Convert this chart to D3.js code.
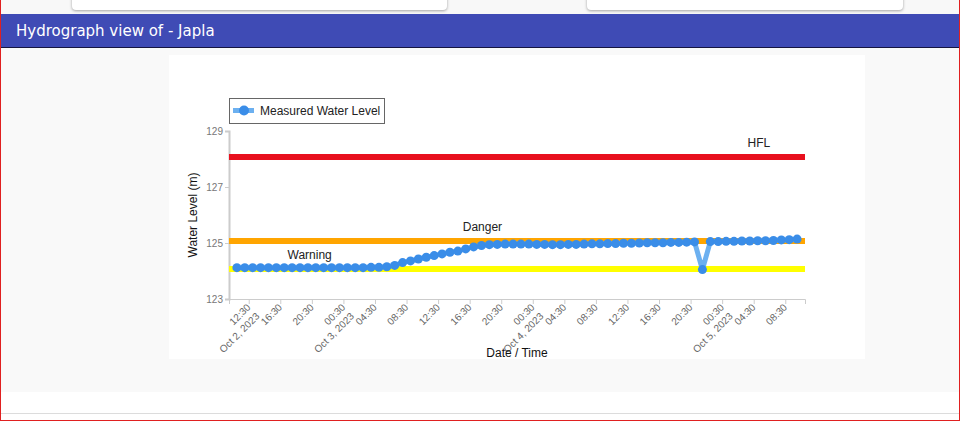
<!DOCTYPE html>
<html>
<head>
<meta charset="utf-8">
<script src="https://cdn.jsdelivr.net/npm/d3@7"></script>
<style>
  html, body { margin: 0; padding: 0; }
  body { width: 960px; height: 421px; position: relative; overflow: hidden; background: #fff; font-family: "Liberation Sans", Arial, sans-serif; }
  .frame { position: absolute; left: 0; top: 0; width: 958px; height: 420px; border: 1px solid #e02020; border-top: none; }
  .topbar { position: absolute; left: 1px; top: 0; width: 958px; height: 14px; background: #f8f8f8; }
  .card { position: absolute; top: -6px; height: 16px; background: #fff; border-radius: 0 0 4px 4px; box-shadow: 0 1px 3px rgba(0,0,0,0.35); }
  .header { position: absolute; left: 1px; top: 14px; width: 958px; height: 34px; background: #3f4bb5; border-bottom: 1px solid #151540; color: #fff; font-size: 15px; line-height: 35px; padding-left: 15px; box-sizing: border-box; font-family: "DejaVu Sans", "Liberation Sans", sans-serif; }
  .panel { position: absolute; left: 1px; top: 48px; width: 958px; height: 344px; background: #f9f9f9; }
  .bottomline { position: absolute; left: 1px; top: 413px; width: 958px; height: 1px; background: #dcdcdc; }
  #chart { position: absolute; left: 169px; top: 55px; width: 696px; height: 304px; background: #fff; }
  svg text { font-family: "Liberation Sans", Arial, sans-serif; }
</style>
</head>
<body>
<div class="topbar"></div>
<div class="card" style="left:72px;width:375px"></div>
<div class="card" style="left:587px;width:316px"></div>
<div class="header">Hydrograph view of - Japla</div>
<div class="panel"></div>
<div id="chart"></div>
<div class="bottomline"></div>
<div class="frame"></div>
<script>
// hourly readings, Oct 2 11:00 -> Oct 5 10:00
var times = [
  "2023-10-02 11:00","2023-10-02 12:00","2023-10-02 13:00","2023-10-02 14:00","2023-10-02 15:00","2023-10-02 16:00",
  "2023-10-02 17:00","2023-10-02 18:00","2023-10-02 19:00","2023-10-02 20:00","2023-10-02 21:00","2023-10-02 22:00",
  "2023-10-02 23:00","2023-10-03 00:00","2023-10-03 01:00","2023-10-03 02:00","2023-10-03 03:00","2023-10-03 04:00",
  "2023-10-03 05:00","2023-10-03 06:00","2023-10-03 07:00","2023-10-03 08:00","2023-10-03 09:00","2023-10-03 10:00",
  "2023-10-03 11:00","2023-10-03 12:00","2023-10-03 13:00","2023-10-03 14:00","2023-10-03 15:00","2023-10-03 16:00",
  "2023-10-03 17:00","2023-10-03 18:00","2023-10-03 19:00","2023-10-03 20:00","2023-10-03 21:00","2023-10-03 22:00",
  "2023-10-03 23:00","2023-10-04 00:00","2023-10-04 01:00","2023-10-04 02:00","2023-10-04 03:00","2023-10-04 04:00",
  "2023-10-04 05:00","2023-10-04 06:00","2023-10-04 07:00","2023-10-04 08:00","2023-10-04 09:00","2023-10-04 10:00",
  "2023-10-04 11:00","2023-10-04 12:00","2023-10-04 13:00","2023-10-04 14:00","2023-10-04 15:00","2023-10-04 16:00",
  "2023-10-04 17:00","2023-10-04 18:00","2023-10-04 19:00","2023-10-04 20:00","2023-10-04 21:00","2023-10-04 22:00",
  "2023-10-04 23:00","2023-10-05 00:00","2023-10-05 01:00","2023-10-05 02:00","2023-10-05 03:00","2023-10-05 04:00",
  "2023-10-05 05:00","2023-10-05 06:00","2023-10-05 07:00","2023-10-05 08:00","2023-10-05 09:00","2023-10-05 10:00"
];
var levels = [
  124.12,124.12,124.12,124.12,124.12,124.12,124.12,124.12,124.12,124.12,
  124.12,124.12,124.12,124.12,124.12,124.12,124.12,124.13,124.13,124.15,
  124.20,124.30,124.36,124.43,124.49,124.55,124.61,124.67,124.71,124.79,
  124.86,124.91,124.94,124.95,124.96,124.96,124.96,124.96,124.95,124.95,
  124.94,124.94,124.95,124.95,124.96,124.97,124.97,124.98,124.98,124.99,
  124.99,125.00,125.01,125.01,125.01,125.02,125.02,125.03,125.04,124.05,
  125.05,125.05,125.06,125.06,125.07,125.07,125.08,125.08,125.09,125.11,
  125.12,125.14
];

var levelNames = ["HFL", "Danger", "Warning"];
var levelValues = [128.07, 125.07, 124.07];
var levelColors = ["#e8101e", "#ffa500", "#ffff00"];

var yTicks = [123, 125, 127, 129];
var xTicks = [
  "2023-10-02 12:30","2023-10-02 16:30","2023-10-02 20:30","2023-10-03 00:30","2023-10-03 04:30","2023-10-03 08:30",
  "2023-10-03 12:30","2023-10-03 16:30","2023-10-03 20:30","2023-10-04 00:30","2023-10-04 04:30","2023-10-04 08:30",
  "2023-10-04 12:30","2023-10-04 16:30","2023-10-04 20:30","2023-10-05 00:30","2023-10-05 04:30","2023-10-05 08:30"
];
var xDomain = ["2023-10-02 10:00", "2023-10-05 11:00"];

var parse = d3.timeParse("%Y-%m-%d %H:%M");
var data = times.map(function(t, i) { return { date: parse(t), level: levels[i] }; });

var svgWidth = 696, svgHeight = 304;
var margin = { top: 76, right: 60, bottom: 60, left: 60 };
var width = svgWidth - margin.left - margin.right;
var height = svgHeight - margin.top - margin.bottom;

var svg = d3.select("#chart")
  .append("svg")
  .attr("width", svgWidth)
  .attr("height", svgHeight)
  .append("g")
  .attr("transform", `translate(${margin.left}, ${margin.top})`);

var x = d3.scaleTime()
  .domain(xDomain.map(parse))
  .range([0, width]);

var y = d3.scaleLinear()
  .domain([123, 129])
  .range([height, 0]);

// x axis
var fmtTime = d3.timeFormat("%H:%M");
var fmtDate = d3.timeFormat("%b %-d, %Y");
var tickDates = xTicks.map(parse);
var xAxis = svg.append("g")
  .attr("transform", "translate(0," + height + ")")
  .call(d3.axisBottom(x).tickValues(tickDates).tickSize(5).tickFormat(""));
xAxis.select(".domain").attr("stroke", "#ccc");
xAxis.selectAll(".tick line").attr("stroke", "#ccc");
xAxis.selectAll(".tick").each(function(d, i) {
  var t = d3.select(this).append("text")
    .attr("transform", "translate(2,9) rotate(-45)")
    .attr("text-anchor", "end")
    .attr("font-size", 10)
    .attr("fill", "#666");
  t.append("tspan").attr("x", 0).attr("y", 0).text(fmtTime(d));
  if (i === 0 || d.getHours() === 0) {
    t.append("tspan").attr("x", 0).attr("dy", "1.25em").text(fmtDate(d));
  }
});

// y axis
var yAxis = svg.append("g")
  .call(d3.axisLeft(y).tickValues(yTicks).tickSize(4).tickFormat(d3.format("d")));
yAxis.select(".domain").attr("stroke", "#ccc").attr("stroke-width", 2);
yAxis.selectAll(".tick line").attr("stroke", "#ccc");
yAxis.selectAll(".tick text").attr("fill", "#777").attr("font-size", 10).attr("x", -6);

// axis labels
svg.append("text")
  .attr("transform", "rotate(-90)")
  .attr("y", -32)
  .attr("x", -height / 2)
  .attr("text-anchor", "middle")
  .attr("font-size", 12)
  .attr("fill", "#111")
  .text("Water Level (m)");

svg.append("text")
  .attr("x", width / 2)
  .attr("y", height + 58)
  .attr("text-anchor", "middle")
  .attr("font-size", 12)
  .attr("fill", "#111")
  .text("Date / Time");

// threshold lines
var labelPos = [0.92, 0.44, 0.14];
levelValues.forEach(function(v, i) {
  svg.append("line")
    .attr("x1", 0).attr("x2", width)
    .attr("y1", y(v)).attr("y2", y(v))
    .attr("stroke", levelColors[i])
    .attr("stroke-width", 6);
  svg.append("text")
    .attr("x", width * labelPos[i])
    .attr("y", y(v) - 10)
    .attr("text-anchor", "middle")
    .attr("font-size", 12)
    .attr("fill", "#222")
    .text(levelNames[i]);
});

// measured series
var line = d3.line().x(d => x(d.date)).y(d => y(d.level));
svg.append("path")
  .datum(data)
  .attr("fill", "none")
  .attr("stroke", "#6cb0f0")
  .attr("stroke-width", 5)
  .attr("stroke-linejoin", "round")
  .attr("d", line);

svg.selectAll("circle.pt")
  .data(data)
  .enter()
  .append("circle")
  .attr("class", "pt")
  .attr("cx", d => x(d.date))
  .attr("cy", d => y(d.level))
  .attr("r", 4.5)
  .attr("fill", "#3a8de8");

// legend
var legend = svg.append("g").attr("transform", "translate(0,-33)");
legend.append("rect")
  .attr("x", 0.5).attr("y", 0.5)
  .attr("width", 155).attr("height", 25)
  .attr("fill", "#fff")
  .attr("stroke", "#666");
legend.append("line")
  .attr("x1", 4).attr("x2", 25)
  .attr("y1", 12.5).attr("y2", 12.5)
  .attr("stroke", "#6cb0f0")
  .attr("stroke-width", 5);
legend.append("circle")
  .attr("cx", 15).attr("cy", 12.5).attr("r", 5)
  .attr("fill", "#3a8de8");
legend.append("text")
  .attr("x", 31).attr("y", 17)
  .attr("font-size", 12)
  .attr("fill", "#222")
  .text("Measured Water Level");
</script>
</body>
</html>
